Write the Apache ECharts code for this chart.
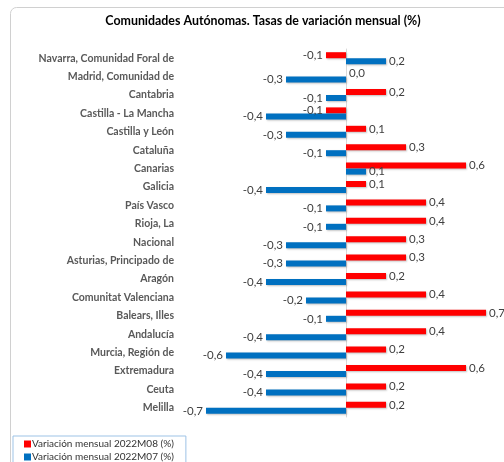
<!DOCTYPE html>
<html>
<head>
<meta charset="utf-8">
<script src="https://cdn.jsdelivr.net/npm/echarts@6/dist/echarts.min.js"></script>
<style>
html, body { margin: 0; padding: 0; background: #fff; }
#chart { width: 504px; height: 462px; }
</style>
</head>
<body>
<div id="chart"></div>
<script>
// comunidades, de arriba abajo
var regions = [
	'Navarra, Comunidad Foral de', 'Madrid, Comunidad de', 'Cantabria', 'Castilla - La Mancha',
	'Castilla y León', 'Cataluña', 'Canarias', 'Galicia', 'País Vasco', 'Rioja, La', 'Nacional',
	'Asturias, Principado de', 'Aragón', 'Comunitat Valenciana', 'Balears, Illes', 'Andalucía',
	'Murcia, Región de', 'Extremadura', 'Ceuta', 'Melilla'
]
var m08 = [-0.1, 0.0, 0.2, -0.1, 0.1, 0.3, 0.6, 0.1, 0.4, 0.4, 0.3, 0.3, 0.2, 0.4, 0.7, 0.4, 0.2, 0.6, 0.2, 0.2]
var m07 = [0.2, -0.3, -0.1, -0.4, -0.3, -0.1, 0.1, -0.4, -0.1, -0.1, -0.3, -0.3, -0.4, -0.2, -0.1, -0.4, -0.6, -0.4, -0.4, -0.7]
var seriesNames = ['Variación mensual 2022M08 (%)', 'Variación mensual 2022M07 (%)']

var font = 'Lato'
function fmt(p) {
	return p.value.toFixed(1).replace('.', ',')
}
function withLabels(values) {
	return values.map(function(v) {
		return {
			value: v,
			label: { position: v < 0 ? 'left' : 'right' }
		}
	})
}
function barSeries(name, values, color) {
	return {
		name: name,
		type: 'bar',
		data: withLabels(values),
		barWidth: 6,
		barGap: '0%',
		itemStyle: {
			color: color,
			shadowColor: 'rgba(0,0,0,0.25)',
			shadowBlur: 2,
			shadowOffsetX: 1,
			shadowOffsetY: 1
		},
		label: {
			show: true,
			formatter: fmt,
			color: '#404040',
			fontFamily: font,
			fontSize: 11.5,
			distance: 3
		}
	}
}

var options = {
	animation: false,
	title: {
		text: 'Comunidades Autónomas. Tasas de variación mensual (%)',
		left: 258,
		textAlign: 'center',
		top: 10,
		textStyle: { fontFamily: font, fontSize: 12.4, fontWeight: 'bold', color: '#000' }
	},
	graphic: [{
		type: 'rect',
		shape: { x: 10.5, y: 7.5, width: 520, height: 520, r: 6 },
		style: { fill: 'none', stroke: '#d0d0d0', lineWidth: 1 },
		silent: true
	}],
	legend: {
		orient: 'vertical',
		left: 13,
		top: 436,
		height: 40,
		itemWidth: 7,
		itemHeight: 7,
		itemGap: 3,
		padding: [3, 12, 3, 11],
		borderColor: '#9dc3e6',
		borderWidth: 1,
		icon: 'rect',
		textStyle: { fontFamily: font, fontSize: 10, lineHeight: 10, color: '#333', padding: [0, 0, 0, -4] },
		data: seriesNames
	},
	grid: { left: 206, right: 18, top: 49, bottom: 45, outerBoundsMode: 'none', containLabel: false },
	xAxis: {
		type: 'value',
		min: -0.7,
		max: 0.7,
		show: false
	},
	yAxis: {
		type: 'category',
		inverse: true,
		data: regions,
		axisLine: { show: true, lineStyle: { color: '#d9d9d9' } },
		axisTick: { show: false },
		axisLabel: {
			fontFamily: font,
			fontSize: 10.5,
			fontWeight: 'bold',
			color: '#595959',
			margin: 32
		}
	},
	series: [
		barSeries(seriesNames[0], m08, '#ff0000'),
		barSeries(seriesNames[1], m07, '#0070c0')
	]
}

var myChart = echarts.init(document.getElementById('chart'))
myChart.setOption(options)
</script>
</body>
</html>
